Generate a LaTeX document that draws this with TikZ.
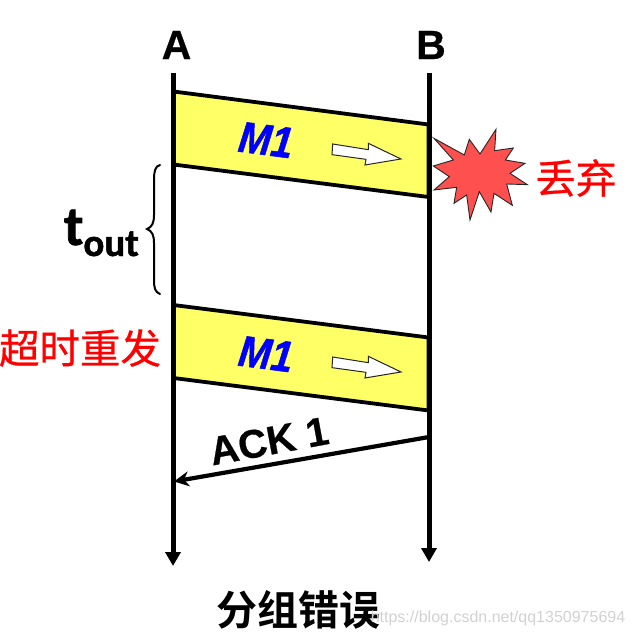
\documentclass[tikz,border=0pt]{standalone}
\usepackage{fontspec}
\setmainfont{Liberation Sans}
\newfontfamily\cjkfont[FakeBold=0.6]{Noto Sans CJK SC}
\newfontfamily\cjkbold{Noto Sans CJK SC Bold}
\newfontfamily\calfont[FakeBold=1.2]{Carlito Bold}
\newfontfamily\msgfont[FakeBold=1.2]{Liberation Sans Bold Italic}
\newfontfamily\sansheavy[FakeBold=0.6]{Liberation Sans Bold}
\usetikzlibrary{arrows.meta}
\definecolor{bandyellow}{RGB}{255,255,102}
\definecolor{starred}{RGB}{255,80,80}
\definecolor{markgray}{RGB}{210,210,210}
\newcommand{\fs}[1]{\fontsize{#1}{#1}\selectfont}
\tikzset{
  x=1pt,y=-1pt,
  lbl/.style={inner sep=0pt,outer sep=0pt},
  head/.style={lbl,font=\fs{41}\sansheavy},
  msg/.style={lbl,text=blue,rotate=-7.4,yscale=1.12,font=\fs{39}\msgfont},
  redtext/.style={lbl,text=red,font=\fs{40.5}\cjkfont},
  life/.style={line width=5pt,-{Triangle[length=14pt,width=15pt]}},
  band/.style={fill=bandyellow,draw=black,line width=3.8pt,line join=miter},
  whitearrow/.style={fill=white,draw=black!85,line width=1pt},
}
\begin{document}
\begin{tikzpicture}
\useasboundingbox (0,0) rectangle (633,636);
\fill[white] (0,0) rectangle (633,636);
\coordinate (Atop) at (173,73);
\coordinate (Abot) at (173,566);
\coordinate (Btop) at (429,73);
\coordinate (Bbot) at (429,562);
\coordinate (ackS) at (429,437);
\coordinate (ackE) at (174,481.5);
% bands
\draw[band] (173.5,91.5) -- (428.5,124.5) -- (428.5,197) -- (173.5,164.5) -- cycle;
\draw[band] (173.5,305) -- (428.5,337.5) -- (428.5,410.5) -- (173.5,378) -- cycle;
% lifelines
\node[head] (A) at (176.5,45) {A};
\node[head] (B) at (431,45) {B};
\draw[life] (Atop) -- (Abot);
\draw[life] (Btop) -- (Bbot);
% messages
\node[msg] (m1) at (266,140) {M1};
\node[msg] (m2) at (266,354) {M1};
\foreach \d in {0,213}{
\begin{scope}[shift={(320,{80+\d})},x=0.3333pt,y=-0.3333pt]
\draw[whitearrow] (38,192) -- (145,209) -- (145,190) -- (243,237) -- (135,255) -- (138,238) -- (36,224) -- cycle;
\end{scope}}
% star
\begin{scope}[shift={(320,80)},x=0.3333pt,y=-0.3333pt]
\draw[fill=starred,draw=black!85,line width=0.9pt,line join=miter]
 (342,175) -- (433,225) -- (448,178) -- (480,222) -- (528,148) -- (524,212) -- (580,204) -- (556,240) -- (615,250) -- (570,280) -- (622,314) -- (560,312) -- (577,376) -- (522,340) -- (513,396) -- (478,335) -- (450,420) -- (440,345) -- (402,370) -- (410,322) -- (342,330) -- (388,290) -- (340,258) -- (400,240) -- cycle;
\end{scope}
\node[redtext] (diu) at (576,178) {丢弃};
\node[redtext] (chao) at (80,348) {超时重发};
% brace
\coordinate (brT) at (160,165);
\coordinate (brM) at (147,229);
\coordinate (brB) at (160,294);
\draw[line width=2pt,line cap=round] (brT) .. controls (155,166) and (154,172) .. (154,180) -- (154,215) .. controls (154,223) and (152,227) .. (brM) .. controls (152,231) and (154,235) .. (154,243) -- (154,280) .. controls (154,288) and (155,292) .. (brB);
\node[lbl,anchor=base west] (t) at (64,245) {\calfont\fs{56}t\raisebox{-11pt}{\fs{39}out}};
% ack
\draw[line width=4.2pt,-{Stealth[length=15pt,width=15pt]}] (ackS) -- (ackE);
\node[lbl,rotate=10.5,font=\fs{40}\sansheavy] (ack) at (269,441) {ACK 1};
% caption
\node[lbl,font=\fs{41}\cjkbold] (cap) at (298,610) {分组错误};
\node[lbl,text=markgray,font=\fs{16}] (wm) at (498,618) {https://blog.csdn.net/qq1350975694};
\end{tikzpicture}
\end{document}
